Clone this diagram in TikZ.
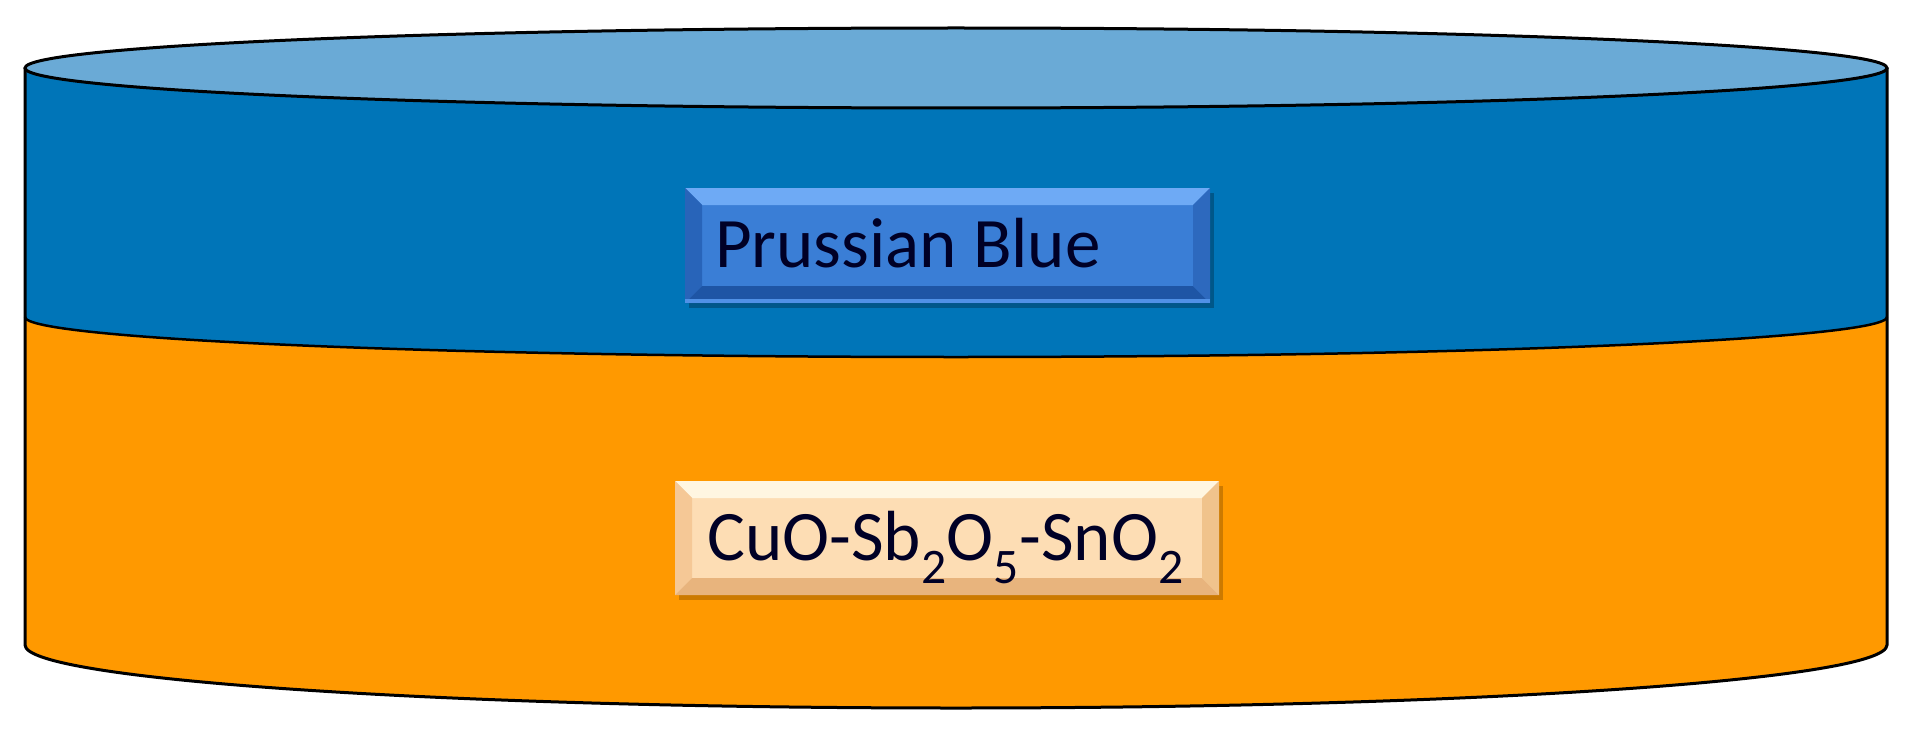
\documentclass[tikz,border=0pt]{standalone}
\usepackage{fontspec}
\setmainfont{Carlito}
\definecolor{side}{HTML}{0075B8}
\definecolor{topc}{HTML}{6AAAD6}
\definecolor{orng}{HTML}{FF9900}
\tikzset{edge/.style={draw=black,line width=3pt},
lbl/.style={font=\fontsize{71}{75}\selectfont,text=black!85!blue,inner sep=0pt}}
\begin{document}
\begin{tikzpicture}[x=1pt,y=-1pt]
\useasboundingbox (0,0) rectangle (1910,741);
% orange body
\fill[orng] (25,317) -- (25,645) arc[start angle=180,end angle=0,x radius=931,y radius=63] -- (1887,317) arc[start angle=0,end angle=180,x radius=931,y radius=40] -- cycle;
% blue band
\fill[side] (25,68) -- (25,317) arc[start angle=180,end angle=0,x radius=931,y radius=40] -- (1887,68) -- cycle;
\fill[topc] (956,68) ellipse[x radius=931,y radius=40];
\draw[edge] (956,68) ellipse[x radius=931,y radius=40];
\draw[edge] (25,68) -- (25,645) arc[start angle=180,end angle=0,x radius=931,y radius=63] -- (1887,68);
\draw[edge,line width=2.5pt] (25,317) arc[start angle=180,end angle=0,x radius=931,y radius=40];
% Prussian blue bevel box
\fill[black,opacity=0.25] (689,193) rectangle (1214,308);
\fill[fill={rgb,255:red,58;green,126;blue,214}] (685,188) rectangle (1210,303);
\fill[fill={rgb,255:red,110;green,170;blue,245}] (685,188) -- (1210,188) -- (1193,205) -- (702,205) -- cycle;
\fill[fill={rgb,255:red,40;green,100;blue,185}] (685,188) -- (702,205) -- (702,286) -- (685,303) -- cycle;
\fill[fill={rgb,255:red,30;green,85;blue,165}] (685,303) -- (702,286) -- (1193,286) -- (1210,303) -- cycle;
\fill[fill={rgb,255:red,45;green,105;blue,190}] (1210,188) -- (1193,205) -- (1193,286) -- (1210,303) -- cycle;
\fill[fill={rgb,255:red,80;green,145;blue,230}] (685,299) rectangle (1210,303);
\node[lbl,anchor=base west] (pb) at (715,267) {Prussian Blue};
% CuO bevel box
\fill[black,opacity=0.2] (679,486) rectangle (1223,600);
\fill[fill={rgb,255:red,253;green,221;blue,180}] (675,481) rectangle (1219,595);
\fill[fill={rgb,255:red,255;green,246;blue,225}] (675,481) -- (1219,481) -- (1202,498) -- (692,498) -- cycle;
\fill[fill={rgb,255:red,245;green,200;blue,150}] (675,481) -- (692,498) -- (692,578) -- (675,595) -- cycle;
\fill[fill={rgb,255:red,232;green,180;blue,125}] (675,595) -- (692,578) -- (1202,578) -- (1219,595) -- cycle;
\fill[fill={rgb,255:red,240;green,195;blue,140}] (1219,481) -- (1202,498) -- (1202,578) -- (1219,595) -- cycle;
\node[lbl,anchor=base west] (cu) at (707,560) {CuO-Sb\textsubscript{2}O\textsubscript{5}-SnO\textsubscript{2}};
\end{tikzpicture}
\end{document}
